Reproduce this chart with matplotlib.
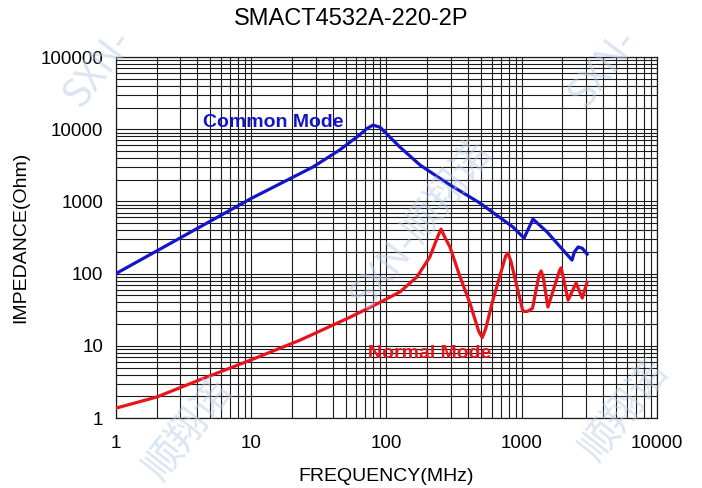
import matplotlib.pyplot as plt
from matplotlib.ticker import FixedLocator, LogLocator, NullFormatter

plt.rcParams['font.family'] = ['Liberation Sans', 'DejaVu Sans']

# Common mode impedance (MHz, Ohm)
cm_freq = [1, 2.8, 10, 28.6, 45, 63, 72, 79.5, 89.5, 126, 177, 280, 491, 861,
           1040, 1210, 1540, 2350, 2450, 2610, 2800, 3040]
cm_imp = [100, 292, 1100, 3000, 5150, 8300, 10300, 11400, 10700, 5650, 3200,
          1800, 950, 442, 311, 570, 377, 154, 200, 234, 225, 186]

# Normal mode impedance (MHz, Ohm)
nm_freq = [1, 2, 4.2, 9.8, 23, 54, 89.5, 126, 168, 209, 240, 253, 270, 295,
           350, 414, 480, 510, 540, 612, 760, 790, 830, 923, 1020, 1100, 1200,
           1340, 1390, 1440, 1560, 1900, 1950, 2000, 2200, 2520, 2800, 3040]
nm_imp = [1.37, 1.95, 3.4, 6.3, 12, 25, 40, 56, 90, 170, 330, 415, 320, 233,
          90, 39, 16, 13, 17, 43, 175, 193, 150, 65, 30, 30, 33,
          95, 109, 90, 34.5, 110, 120, 100, 43, 74, 46, 76]

x_ticks = [1, 10, 100, 1000, 10000]
y_ticks = [1, 10, 100, 1000, 10000, 100000]

fig = plt.figure(figsize=(7.02, 4.88), dpi=100)
ax = fig.add_axes([0.165, 0.1434, 0.771, 0.7396])

ax.plot(cm_freq, cm_imp, color='#1414c8', lw=2.3, zorder=3)
ax.plot(nm_freq, nm_imp, color='#e8141c', lw=2.3, zorder=3)

ax.set_xscale('log')
ax.set_yscale('log')
ax.set_xlim(1, 10000)
ax.set_ylim(1, 100000)

ax.xaxis.set_major_locator(FixedLocator(x_ticks))
ax.yaxis.set_major_locator(FixedLocator(y_ticks))
ax.set_xticklabels([str(v) for v in x_ticks])
ax.set_yticklabels([str(v) for v in y_ticks])
ax.xaxis.set_minor_locator(LogLocator(base=10, subs=range(2, 10)))
ax.yaxis.set_minor_locator(LogLocator(base=10, subs=range(2, 10)))
ax.xaxis.set_minor_formatter(NullFormatter())
ax.yaxis.set_minor_formatter(NullFormatter())
ax.grid(True, which='both', color='#1a1a1a', lw=0.8)
ax.tick_params(which='both', length=0, labelsize=13.5)
ax.tick_params(axis='x', pad=12)
ax.tick_params(axis='y', pad=9)
for s in ax.spines.values():
    s.set_color('#1a1a1a')
    s.set_linewidth(0.9)

ax.set_xlabel('FREQUENCY(MHz)', fontsize=14, labelpad=12)
ax.set_ylabel('IMPEDANCE(Ohm)', fontsize=14, labelpad=8)
fig.text(0.5, 0.962, 'SMACT4532A-220-2P', ha='center', va='center', fontsize=17)

ax.text(4.4, 12600, 'Common Mode', color='#1414c8', fontsize=14,
        fontweight='bold', va='center', ha='left', zorder=4)
ax.text(73, 7.9, 'Normal Mode', color='#e8141c', fontsize=14,
        fontweight='bold', va='center', ha='left', zorder=4)

# faint watermarks
wm = dict(color='#b8cce6', alpha=0.5, fontsize=28, rotation=52,
          family=['Noto Sans CJK SC', 'DejaVu Sans'], ha='center',
          va='center', zorder=5)
fig.text(0.60, 0.54, 'SXN-顺翔诺', **wm)
fig.text(0.14, 0.86, 'SXN-', **wm)
fig.text(0.86, 0.86, 'SXN-', **wm)
fig.text(0.27, 0.12, '顺翔诺', **wm)
fig.text(0.89, 0.16, '顺翔诺', **wm)

fig.savefig('out.png', dpi=100)
